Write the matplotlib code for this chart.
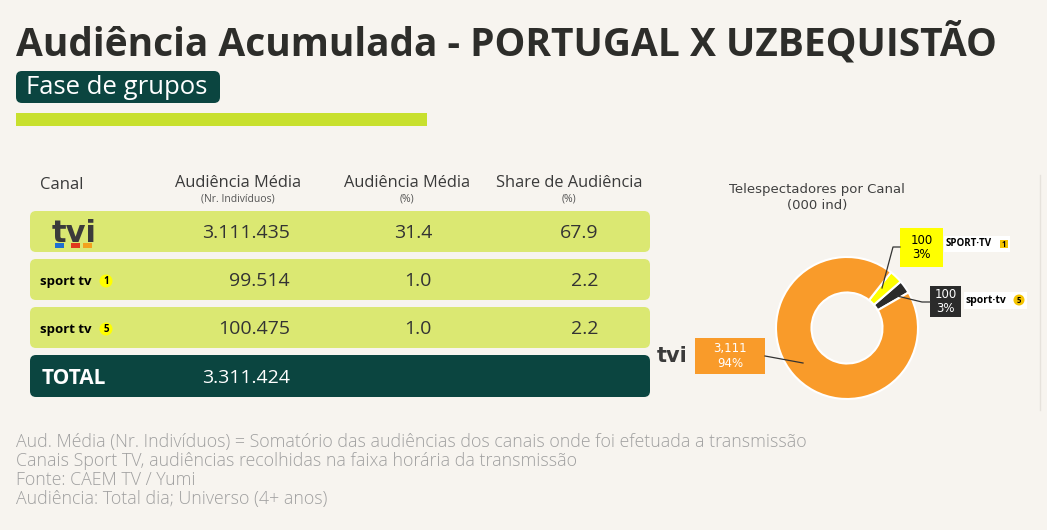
import matplotlib.pyplot as plt
from matplotlib.patches import FancyBboxPatch, Rectangle, Circle

# ---- data ----
canais = ["tvi", "sport tv 1", "sport tv 5"]
aud_media = ["3.111.435", "99.514", "100.475"]
aud_pct = ["31.4", "1.0", "1.0"]
share = ["67.9", "2.2", "2.2"]
total = "3.311.424"

# donut (000 ind), drawn counterclockwise starting with sport tv 5
donut_names = ["sport tv 5", "sport tv 1", "tvi"]
donut_vals = [100, 100, 3111]
donut_lbls = ["100", "100", "3,111"]
donut_pcts = ["3%", "3%", "94%"]

notas = [
    "Aud. Média (Nr. Indivíduos) = Somatório das audiências dos canais onde foi efetuada a transmissão",
    "Canais Sport TV, audiências recolhidas na faixa horária da transmissão",
    "Fonte: CAEM TV / Yumi",
    "Audiência: Total dia; Universo (4+ anos)",
]

BG = "#f7f4ef"
DARK = "#0b4540"
LIME = "#dbe872"
LIMEBAR = "#c8e02e"
ORANGE = "#f99b2a"
YELLOW = "#ffff00"
GREY = "#333333"
FONT = ["Open Sans", "DejaVu Sans"]
plt.rcParams["font.family"] = FONT

W, H = 1047, 530
fig = plt.figure(figsize=(W / 100, H / 100), dpi=100, facecolor=BG)

# donut axes (pixel-positioned)
cx, cy, r = 847, 328, 71
pax = fig.add_axes([(cx - r) / W, (H - cy - r) / H, 2 * r / W, 2 * r / H])
pax.pie(donut_vals, colors=["#2b2b2b", YELLOW, ORANGE], startangle=30,
        counterclock=True, radius=1,
        wedgeprops=dict(width=0.5, edgecolor="white", linewidth=1.5))
pax.set_xlim(-1, 1)
pax.set_ylim(-1, 1)
pax.set_aspect("equal")
pax.axis("off")

# overlay axes in pixel coordinates
ax = fig.add_axes([0, 0, 1, 1], facecolor="none")
ax.set_xlim(0, W)
ax.set_ylim(H, 0)
ax.axis("off")

# title block
ax.text(16, 43, "Audiência Acumulada - PORTUGAL X UZBEQUISTÃO", fontsize=28,
        fontweight="bold", color="#2d2d2a", va="center", ha="left")
ax.add_patch(FancyBboxPatch((16, 71), 204, 32, boxstyle="round,pad=0,rounding_size=6",
                            fc=DARK, ec="none"))
ax.text(26, 88, "Fase de grupos", fontsize=18.5, color="white", va="center", ha="left")
ax.add_patch(Rectangle((16, 113), 411, 13, fc=LIMEBAR, ec="none"))

# table header
hdr_c = "#3a3a3a"
ax.text(40, 185, "Canal", fontsize=12, color=hdr_c, va="center")
col_x = [238, 407, 569]
col_t = ["Audiência Média", "Audiência Média", "Share de Audiência"]
col_s = ["(Nr. Indivíduos)", "(%)", "(%)"]
for x, t, s in zip(col_x, col_t, col_s):
    ax.text(x, 183, t, fontsize=11.8, color=hdr_c, ha="center", va="center")
    ax.text(x, 199, s, fontsize=7.5, color="#555555", ha="center", va="center")

# table rows
row_y = [211, 259, 307]
row_h = 41
for i, y in enumerate(row_y):
    ax.add_patch(FancyBboxPatch((30, y), 620, row_h, boxstyle="round,pad=0,rounding_size=6",
                                fc=LIME, ec="none"))
    yc = y + row_h / 2 + 1.5
    ax.text(290, yc, aud_media[i], fontsize=14, color=GREY, ha="right", va="center")
    ax.text(432, yc, aud_pct[i], fontsize=14, color=GREY, ha="right", va="center")
    ax.text(598, yc, share[i], fontsize=14, color=GREY, ha="right", va="center")

# logos in table
ax.text(52, 233, "tvi", fontsize=22, fontweight="heavy", color="#3b3b3b",
        va="center", ha="left", family=["DejaVu Sans"])
for x0, c in zip([55, 71, 83], ["#1f6fd1", "#e03a1e", "#f3a21d"]):
    ax.add_patch(Rectangle((x0, 243), 9, 5, fc=c, ec="none"))
for y, n in zip([281, 329], ["1", "5"]):
    ax.text(40, y, "sport tv", fontsize=9.5, fontweight="bold", color="black",
            va="center", ha="left")
    ax.add_patch(Circle((106, y), 6.5, fc=YELLOW, ec="none"))
    ax.text(106, y + 0.5, n, fontsize=7, fontweight="bold", color="black",
            ha="center", va="center")

# total row
ax.add_patch(FancyBboxPatch((30, 355), 620, 42, boxstyle="round,pad=0,rounding_size=6",
                            fc=DARK, ec="none"))
ax.text(42, 378, "TOTAL", fontsize=15, fontweight="bold", color="white", va="center")
ax.text(290, 378, total, fontsize=14, color="white", ha="right", va="center")

# donut title
ax.text(817, 197, "Telespectadores por Canal\n(000 ind)", fontsize=9.5, color="#404040",
        ha="center", va="center", linespacing=1.3, family=["DejaVu Sans"])

# donut labels
boxes = {
    "sport tv 1": dict(xy=(900, 228), wh=(43, 39), fc=YELLOW, tc="black",
                       line=[(900, 247), (893, 247), (882, 288)]),
    "sport tv 5": dict(xy=(930, 286), wh=(31, 31), fc="#2b2b2b", tc="white",
                       line=[(930, 302), (922, 302), (897, 296)]),
    "tvi": dict(xy=(695, 338), wh=(70, 36), fc=ORANGE, tc="white",
                line=[(765, 356), (803, 363)]),
}
for name, lbl, pct in zip(donut_names, donut_lbls, donut_pcts):
    b = boxes[name]
    (x0, y0), (w, h) = b["xy"], b["wh"]
    xs, ys = zip(*b["line"])
    ax.plot(xs, ys, color="#333333", lw=0.9)
    ax.add_patch(Rectangle((x0, y0), w, h, fc=b["fc"], ec="none"))
    ax.text(x0 + w / 2, y0 + h / 2, f"{lbl}\n{pct}", fontsize=8.5, color=b["tc"],
            ha="center", va="center", linespacing=1.2, family=["DejaVu Sans"])

# donut side logos
ax.add_patch(Rectangle((944, 236), 66, 16, fc="white", ec="none"))
ax.text(946, 244, "SPORT·TV", fontsize=7, fontweight="bold", color="black", va="center")
ax.add_patch(Rectangle((1000, 240), 8, 8, fc="#f5c400", ec="none"))
ax.text(1004, 244.5, "1", fontsize=5.5, fontweight="bold", ha="center", va="center")
ax.add_patch(Rectangle((964, 292), 63, 17, fc="white", ec="none"))
ax.text(966, 300, "sport·tv", fontsize=7.5, fontweight="bold", color="black", va="center")
ax.add_patch(Circle((1019, 300), 5.5, fc="#f5c400", ec="none"))
ax.text(1019, 300.5, "5", fontsize=5.5, fontweight="bold", ha="center", va="center")
ax.text(657, 356, "tvi", fontsize=15, fontweight="heavy", color="#3b3b3b",
        va="center", ha="left", family=["DejaVu Sans"])

# right edge divider
ax.plot([1040, 1040], [175, 410], color="#e6e2dc", lw=1)

# footnotes
for i, t in enumerate(notas):
    ax.text(16, 442 + 19 * i, t, fontsize=12.8, color="#a0a0a0", va="center", ha="left",
            fontweight="light")

fig.savefig("out.png", dpi=100, facecolor=BG)
